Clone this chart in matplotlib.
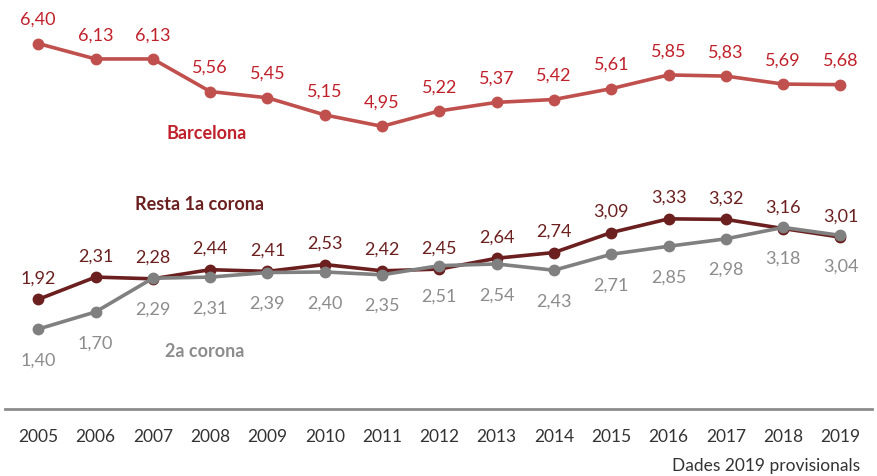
import matplotlib.pyplot as plt

plt.rcParams['font.family'] = ['Lato', 'DejaVu Sans']

years = list(range(2005, 2020))
barcelona = [6.40, 6.13, 6.13, 5.56, 5.45, 5.15, 4.95, 5.22, 5.37, 5.42, 5.61, 5.85, 5.83, 5.69, 5.68]
resta = [1.92, 2.31, 2.28, 2.44, 2.41, 2.53, 2.42, 2.45, 2.64, 2.74, 3.09, 3.33, 3.32, 3.16, 3.01]
segona = [1.40, 1.70, 2.29, 2.31, 2.39, 2.40, 2.35, 2.51, 2.54, 2.43, 2.71, 2.85, 2.98, 3.18, 3.04]

BCN_LINE = '#C0504D'
BCN_TXT = '#C0202A'
RESTA_LINE = '#6B1F1F'
RESTA_TXT = '#6B1F1F'
GREY_LINE = '#808080'
GREY_TXT = '#8C8C8C'

def fmt(v):
    return ('%.2f' % v).replace('.', ',')

fig = plt.figure(figsize=(8.77, 4.77), dpi=100)
ax = fig.add_axes([5 / 877, 67 / 477, 867 / 877, 410 / 477])

ax.plot(years, barcelona, color=BCN_LINE, lw=2.6, marker='o', ms=7.5, zorder=3)
ax.plot(years, resta, color=RESTA_LINE, lw=2.6, marker='o', ms=7.5, zorder=3)
ax.plot(years, segona, color=GREY_LINE, lw=2.6, marker='o', ms=7.5, zorder=4)

for x, v in zip(years, barcelona):
    ax.annotate(fmt(v), (x, v), xytext=(0, 12), textcoords='offset points',
                ha='center', va='bottom', fontsize=13, color=BCN_TXT)
for x, v in zip(years, resta):
    ax.annotate(fmt(v), (x, v), xytext=(0, 10), textcoords='offset points',
                ha='center', va='bottom', fontsize=13, color=RESTA_TXT)
for x, v in zip(years, segona):
    ax.annotate(fmt(v), (x, v), xytext=(0, -16), textcoords='offset points',
                ha='center', va='top', fontsize=13, color=GREY_TXT)

ax.text(2007.93, 4.85, 'Barcelona', ha='center', va='center', fontsize=13,
        fontweight='bold', color=BCN_TXT)
ax.text(2007.81, 3.60, 'Resta 1a corona', ha='center', va='center', fontsize=13,
        fontweight='bold', color=RESTA_TXT)
ax.text(2007.9, 1.03, '2a corona', ha='center', va='center', fontsize=13,
        fontweight='bold', color=GREY_TXT)

ax.set_xlim(2004.42, 2019.55)
ax.set_ylim(0, 7.18)
ax.set_xticks(years)
ax.set_xticklabels([str(y) for y in years], fontsize=12.5, color='#333333')
ax.tick_params(axis='x', length=0, pad=14)
ax.set_yticks([])
for s in ['top', 'left', 'right']:
    ax.spines[s].set_visible(False)
ax.spines['bottom'].set_color('#8C8C8C')
ax.spines['bottom'].set_linewidth(2)

fig.text(860 / 877, 1 - 466 / 477, 'Dades 2019 provisionals', ha='right', va='center',
         fontsize=12.5, color='#333333')

fig.savefig('out.png', dpi=100)
